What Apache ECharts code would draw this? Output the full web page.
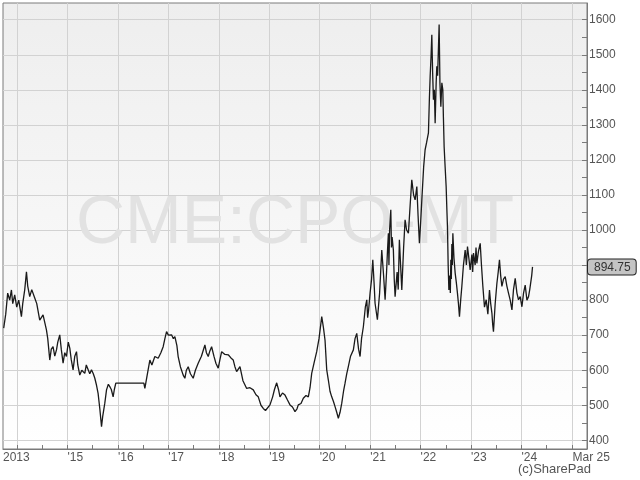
<!DOCTYPE html>
<html>
<head>
<meta charset="utf-8">
<script src="https://cdn.jsdelivr.net/npm/echarts@6/dist/echarts.min.js"></script>
<style>html,body{margin:0;padding:0;background:#fff}#c{width:640px;height:480px}</style>
</head>
<body>
<div id="c"></div>
<script>
// time in decimal years
const dates = [
2013.736,2013.776,2013.815,2013.855,2013.889,2013.915,2013.954,2013.994,2014.034,2014.087,
2014.113,2014.153,2014.187,2014.212,2014.252,2014.292,2014.351,2014.391,2014.450,2014.516,
2014.583,2014.609,2014.649,2014.679,2014.714,2014.748,2014.782,2014.808,2014.847,2014.877,
2014.913,2014.946,2014.980,2015.016,2015.046,2015.075,2015.111,2015.145,2015.179,2015.204,
2015.244,2015.284,2015.343,2015.373,2015.409,2015.442,2015.476,2015.512,2015.542,2015.571,
2015.607,2015.641,2015.675,2015.700,2015.740,2015.774,2015.810,2015.839,2015.869,2015.905,
2015.929,2015.958,2016.514,2016.534,2016.573,2016.633,2016.673,2016.732,2016.798,2016.851,
2016.897,2016.931,2016.964,2017.000,2017.063,2017.099,2017.129,2017.169,2017.194,2017.238,
2017.294,2017.327,2017.357,2017.393,2017.437,2017.492,2017.536,2017.591,2017.655,2017.724,
2017.754,2017.790,2017.823,2017.857,2017.903,2017.942,2017.988,2018.022,2018.056,2018.121,
2018.187,2018.240,2018.286,2018.319,2018.353,2018.419,2018.478,2018.552,2018.617,2018.683,
2018.736,2018.782,2018.835,2018.881,2018.925,2018.960,2019.014,2019.067,2019.103,2019.147,
2019.183,2019.212,2019.262,2019.312,2019.361,2019.411,2019.460,2019.510,2019.550,2019.575,
2019.629,2019.675,2019.728,2019.774,2019.808,2019.841,2019.887,2019.940,2019.986,2020.040,
2020.075,2020.105,2020.139,2020.171,2020.204,2020.238,2020.274,2020.304,2020.337,2020.369,
2020.403,2020.437,2020.472,2020.502,2020.536,2020.567,2020.611,2020.667,2020.700,2020.734,
2020.770,2020.800,2020.829,2020.865,2020.905,2020.933,2020.950,2020.968,2020.998,2021.028,2021.052,
2021.077,2021.097,2021.143,2021.187,2021.230,2021.266,2021.296,2021.325,2021.343,2021.361,2021.372,2021.385,2021.409,
2021.422,2021.435,2021.460,2021.477,2021.494,2021.534,2021.556,2021.579,2021.603,2021.627,2021.663,2021.692,2021.722,
2021.758,2021.792,2021.825,2021.861,2021.891,2021.925,2021.950,2021.976,2022.000,2022.024,
2022.060,2022.089,2022.119,2022.155,2022.175,2022.189,2022.208,2022.222,2022.238,2022.254,
2022.272,2022.288,2022.308,2022.321,2022.337,2022.353,2022.367,2022.383,2022.401,2022.421,
2022.440,2022.452,2022.466,2022.486,2022.506,2022.520,2022.532,2022.546,2022.560,2022.579,2022.589,
2022.599,2022.609,2022.619,2022.629,2022.639,2022.661,2022.685,2022.708,2022.730,2022.750,2022.770,2022.794,
2022.817,2022.849,2022.883,2022.907,2022.929,2022.956,2022.982,2023.016,2023.032,2023.048,2023.081,2023.098,
2023.115,2023.147,2023.181,2023.206,2023.234,2023.266,2023.300,2023.333,2023.365,2023.389,
2023.413,2023.429,2023.444,2023.478,2023.512,2023.538,2023.563,2023.587,2023.611,2023.643,
2023.677,2023.710,2023.742,2023.776,2023.810,2023.841,2023.875,2023.909,2023.940,2023.974,
2024.008,2024.040,2024.073,2024.107,2024.139,2024.163,2024.187,2024.202,2024.218
];
const prices = [
720,760,820,800,829,790,815,780,800,753,
790,830,881,840,810,830,806,790,743,758,
715,690,629,660,667,640,658,680,701,660,
620,650,639,680,663,630,601,640,653,615,
586,600,591,615,610,590,601,590,577,560,
534,490,439,470,506,544,560,553,545,524,
545,563,563,548,580,629,615,639,634,650,
667,690,710,700,701,690,696,670,639,610,
586,577,600,610,590,577,600,620,640,672,
650,639,655,667,640,620,606,630,653,645,
644,635,629,610,596,610,570,548,550,544,
530,524,500,491,485,482,501,524,545,564,
545,524,535,529,515,501,495,482,490,501,
505,520,528,524,550,591,620,653,690,753,
720,686,601,572,540,524,510,496,480,463,
480,506,540,563,590,610,640,658,690,705,
660,639,690,724,781,801,750,770,820,860,915,
850,791,744,820,943,870,801,880,940,991,900,1000,1058,
950,980,943,860,810,880,830,972,900,829,950,1029,1000,
991,1070,1143,1100,1086,1124,1040,962,1020,1086,
1180,1229,1250,1277,1380,1438,1500,1557,1450,1372,
1400,1305,1420,1467,1440,1438,1586,1420,1352,1420,
1400,1320,1238,1180,1124,1060,1010,900,829,870,820,
915,860,960,900,991,920,877,850,820,790,753,800,
839,900,943,900,953,920,886,930,880,934,900,950,
905,940,962,900,839,780,801,760,829,790,
763,730,710,790,848,880,915,870,839,860,
867,840,820,800,772,830,862,820,801,810,
781,820,843,800,810,830,829,870,894.75
];
const lastPrice = 894.75;
const xMin = 2013.722, xMax = 2025.298;
const yMin = 375.2, yMax = 1647.7;
const xLabelValues = [2013.722,2015,2016,2017,2018,2019,2020,2021,2022,2023,2024,2025.012];
const xLabelTexts = ['2013',"'15","'16","'17","'18","'19","'20","'21","'22","'23","'24",'Mar 25'];
const xGridValues = [2014,2015,2016,2017,2018,2019,2020,2021,2022,2023,2024,2025.012];
const xMinorTicks = [2014.5,2015.5,2016.5,2017.5,2018.5,2019.5,2020.5,2021.5,2022.5,2023.5,2024.5];
const yLabelValues = [400,500,600,700,800,900,1000,1100,1200,1300,1400,1500,1600];
const yTickValues = [400,450,500,550,600,650,700,750,800,850,900,950,1000,1050,1100,1150,1200,1250,1300,1350,1400,1450,1500,1550,1600];

const FONT = "'Liberation Sans', Arial, sans-serif";
const chart = echarts.init(document.getElementById('c'), null, {renderer: 'canvas'});
const seriesData = dates.map((d, i) => [d, prices[i]]);

chart.setOption({
  animation: false,
  backgroundColor: '#ffffff',
  textStyle: {fontFamily: FONT},
  grid: {
    left: 3, top: 3, right: 53, bottom: 31,
    show: true,
    borderColor: '#7a7a7a', borderWidth: 1,
    backgroundColor: {type: 'linear', x: 0, y: 0, x2: 0, y2: 1,
      colorStops: [{offset: 0, color: '#eeeeee'}, {offset: 1, color: '#ffffff'}]}
  },
  graphic: [
    {type: 'text', x: 295, y: 224, z: 1, silent: true,
     style: {text: 'CME:CPO-MT', font: "68px 'Liberation Sans', Arial, sans-serif", fill: '#e2e2e2', textAlign: 'center', textVerticalAlign: 'middle'}},
    {type: 'text', x: 518, y: 463, silent: true,
     style: {text: '(c)SharePad', font: "13px 'Liberation Sans', Arial, sans-serif", fill: '#555555'}}
  ],
  xAxis: [
    {type: 'value', min: xMin, max: xMax, position: 'bottom',
     axisLine: {show: true, lineStyle: {color: '#7a7a7a', width: 1}},
     axisTick: {show: true, inside: true, length: 4, customValues: xMinorTicks.concat(xGridValues), lineStyle: {color: '#7a7a7a'}},
     axisLabel: {show: true, customValues: xLabelValues, align: 'left', margin: 3, color: '#555555', fontSize: 12, fontFamily: FONT,
       formatter: function (v) {
         let best = 0, bd = 1e9;
         xLabelValues.forEach((p, i) => { const d = Math.abs(p - v); if (d < bd) { bd = d; best = i; } });
         return xLabelTexts[best];
       }},
     splitLine: {show: false}},
    {type: 'value', min: xMin, max: xMax, position: 'bottom',
     axisLine: {show: false},
     axisTick: {show: false, customValues: xGridValues},
     axisLabel: {show: false},
     splitLine: {show: true, lineStyle: {color: '#d2d2d2', width: 1}}}
  ],
  yAxis: [
    {type: 'value', min: yMin, max: yMax, position: 'right',
     axisLine: {show: true, lineStyle: {color: '#7a7a7a', width: 1}},
     axisTick: {show: true, inside: true, length: 5, customValues: yTickValues, lineStyle: {color: '#7a7a7a'}},
     axisLabel: {show: true, customValues: yLabelValues, margin: 2, color: '#555555', fontSize: 12, fontFamily: FONT,
       formatter: function (v) { return String(Math.round(v)); }},
     splitLine: {show: false},
     axisPointer: {show: true, value: lastPrice, status: 'show', triggerTooltip: false, type: 'line',
       lineStyle: {opacity: 0},
       label: {show: true, precision: 2, backgroundColor: '#c4c4c4', borderColor: '#222222', borderWidth: 1,
         color: '#333333', fontSize: 12, fontFamily: FONT, padding: [2, 5, 1, 6], margin: 1}}},
    {type: 'value', min: yMin, max: yMax, position: 'right',
     axisLine: {show: false},
     axisTick: {show: false, customValues: yLabelValues},
     axisLabel: {show: false},
     splitLine: {show: true, lineStyle: {color: '#d2d2d2', width: 1}}}
  ],
  series: [{
    type: 'line', xAxisIndex: 0, yAxisIndex: 0, data: seriesData,
    showSymbol: false, symbol: 'none', z: 3,
    lineStyle: {color: '#1a1a1a', width: 1.3}
  }]
});
</script>
</body>
</html>
